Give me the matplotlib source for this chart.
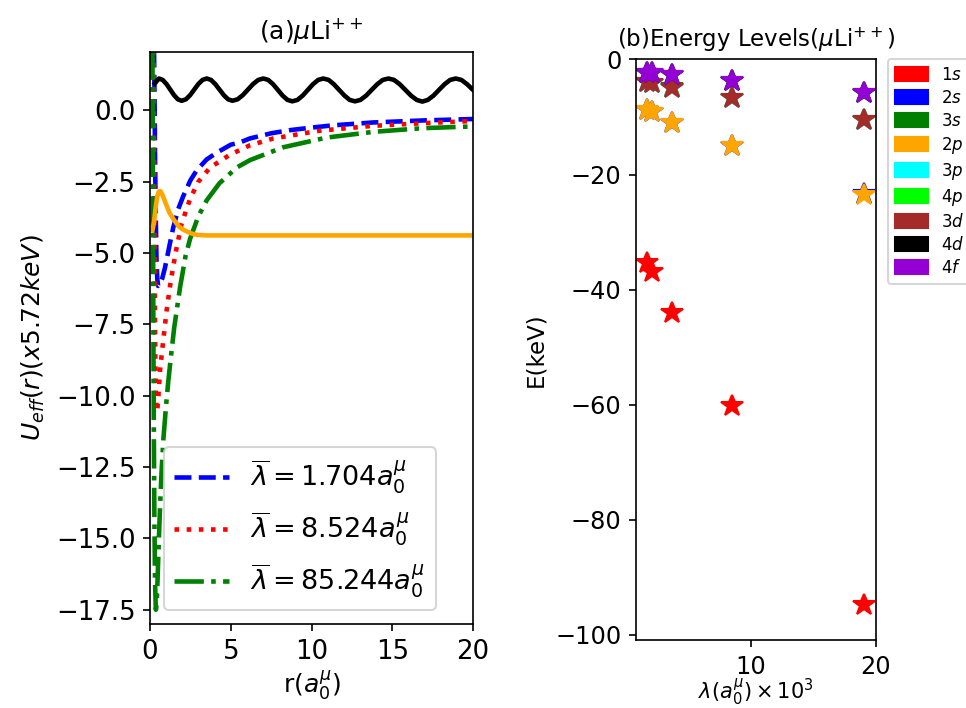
import matplotlib
matplotlib.use("Agg")
import matplotlib.pyplot as plt
from matplotlib.patches import Patch

# ---------------- (a) effective potentials ----------------
r_blue = [0.25, 0.28, 0.31, 0.35, 0.40, 0.45, 0.50, 0.60, 0.75, 0.93, 1.2, 1.44, 1.75,
          2.06, 2.5, 2.89, 3.5, 4.13, 5.0, 5.57, 6.19, 7.5, 8.67, 10.0, 11.35, 13.83,
          16.9, 20.0]
u_blue = [2.1, 0.5, -1.5, -3.5, -5.2, -5.9, -6.15, -6.1, -5.9, -5.5, -4.75, -4.1, -3.45,
          -3.0, -2.45, -2.1, -1.72, -1.48, -1.2, -1.12, -0.98, -0.8, -0.69, -0.6, -0.52,
          -0.42, -0.35, -0.3]

r_red = [0.22, 0.25, 0.28, 0.31, 0.35, 0.40, 0.45, 0.52, 0.62, 0.83, 1.03, 1.24, 1.44,
         1.65, 1.96, 2.48, 2.99, 3.72, 4.95, 6.19, 7.64, 10.5, 13.8, 17.1, 20.0]
u_red = [2.1, -1.5, -5.0, -7.8, -9.8, -10.55, -10.5, -10.0, -9.1, -8.0, -7.0, -6.15,
         -5.45, -4.8, -3.96, -3.1, -2.5, -2.0, -1.55, -1.22, -0.98, -0.71, -0.54, -0.44,
         -0.37]

r_green = [0.15, 0.17, 0.19, 0.21, 0.24, 0.27, 0.31, 0.36, 0.41, 0.47, 0.55, 0.62, 0.72,
           0.83, 1.0, 1.13, 1.3, 1.5, 1.86, 2.2, 2.48, 3.0, 3.51, 4.3, 5.37, 6.19, 8.25,
           10.94, 13.83, 16.9, 20.0]
u_green = [2.1, -1.0, -4.5, -8.0, -11.5, -14.3, -16.5, -17.5, -17.3, -16.4, -15.0, -13.9,
           -12.6, -11.5, -10.3, -9.5, -8.6, -7.6, -6.2, -5.1, -4.5, -3.7, -3.15, -2.55,
           -2.0, -1.74, -1.29, -0.95, -0.75, -0.62, -0.56]

r_orange = [0.15, 0.25, 0.35, 0.45, 0.55, 0.65, 0.8, 1.0, 1.2, 1.44, 1.75, 2.06, 2.5,
            2.89, 3.5, 20.0]
u_orange = [-4.2, -3.9, -3.4, -3.0, -2.84, -2.83, -3.0, -3.3, -3.58, -3.8, -4.05, -4.18,
            -4.3, -4.36, -4.38, -4.38]

r_black = [0.30, 0.55, 0.785, 1.02, 1.255, 1.49, 1.725, 1.96, 2.22, 2.48, 2.735, 2.99,
           3.25, 3.51, 3.775, 4.04, 4.305, 4.57, 4.835, 5.10, 5.42, 5.74, 6.06, 6.38,
           6.70, 7.02, 7.32, 7.62, 7.915, 8.21, 8.51, 8.81, 9.13, 9.45, 9.77, 10.09,
           10.41, 10.73, 11.06, 11.38, 11.71, 12.04, 12.36, 12.69, 13.03, 13.38, 13.72,
           14.07, 14.41, 14.76, 15.11, 15.46, 15.81, 16.16, 16.51, 16.86, 17.20, 17.55,
           17.89, 18.24, 18.58, 18.93, 19.28, 19.63, 20.0]
u_black = [0.95, 1.12,
           1.07, 0.925, 0.73, 0.535, 0.39, 0.34,
           0.39, 0.535, 0.73, 0.925, 1.07, 1.12,
           1.07, 0.925, 0.73, 0.535, 0.39, 0.34,
           0.39, 0.535, 0.73, 0.925, 1.07, 1.12,
           1.07, 0.92, 0.72, 0.52, 0.37, 0.32,
           0.37, 0.52, 0.72, 0.92, 1.07, 1.12,
           1.07, 0.92, 0.72, 0.52, 0.37, 0.32,
           0.37, 0.52, 0.72, 0.92, 1.07, 1.12,
           1.07, 0.92, 0.72, 0.52, 0.37, 0.31,
           0.37, 0.52, 0.72, 0.92, 1.07, 1.12,
           1.07, 0.92, 0.72]

lambda_labels = [r"$\overline{\lambda}=1.704a_0^\mu$",
                 r"$\overline{\lambda}=8.524a_0^\mu$",
                 r"$\overline{\lambda}=85.244a_0^\mu$"]

# ---------------- (b) energy levels ----------------
lam_x = [1.70, 2.13, 3.75, 8.52, 19.08]
level_names = ["1s", "2s", "3s", "2p", "3p", "4p", "3d", "4d", "4f"]
level_colors = ["red", "blue", "green", "orange", "cyan", "lime", "brown", "black",
                "darkviolet"]
E_1s = [-35.3, -37.0, -44.0, -60.3, -94.8]
E_2s = [-8.78, -9.18, -10.98, -14.97, -23.45]
E_3s = [-3.97, -4.07, -4.87, -6.66, -10.45]
E_2p = [-8.8, -9.2, -11.0, -15.0, -23.5]
E_3p = [-3.98, -4.08, -4.88, -6.68, -10.48]
E_4p = [-2.28, -2.28, -2.68, -3.68, -5.77]
E_3d = [-4.0, -4.1, -4.9, -6.7, -10.5]
E_4d = [-2.29, -2.29, -2.69, -3.69, -5.78]
E_4f = [-2.3, -2.3, -2.7, -3.7, -5.8]
levels = [E_1s, E_2s, E_3s, E_2p, E_3p, E_4p, E_3d, E_4d, E_4f]

fig = plt.figure(figsize=(6.44, 4.72), dpi=150)

ax1 = fig.add_axes([0.1553, 0.1186, 0.3344, 0.808])
lw = 2.2
ax1.plot(r_blue, u_blue, color="blue", ls="--", lw=lw, label=lambda_labels[0])
ax1.plot(r_red, u_red, color="red", ls=":", lw=lw, label=lambda_labels[1])
ax1.plot(r_green, u_green, color="green", ls="-.", lw=lw, label=lambda_labels[2])
ax1.plot(r_black, u_black, color="black", ls="-", lw=lw)
ax1.plot(r_orange, u_orange, color="orange", ls="-", lw=lw)
ax1.set_xlim(0, 20)
ax1.set_ylim(-18, 2.05)
ax1.set_xticks([0, 5, 10, 15, 20])
ax1.set_yticks([-17.5, -15.0, -12.5, -10.0, -7.5, -5.0, -2.5, 0.0])
ax1.tick_params(labelsize=12.5)
ax1.set_title(r"(a)$\mu$Li$^{++}$", fontsize=12)
ax1.set_xlabel(r"r($a_0^\mu$)", fontsize=12, labelpad=2)
ax1.set_ylabel(r"$U_{eff}(r)(x5.72keV)$", fontsize=12)
ax1.legend(loc="lower left", fontsize=13)

ax2 = fig.add_axes([0.6584, 0.096, 0.2484, 0.820])
for E, c in zip(levels, level_colors):
    ax2.plot(lam_x, E, ls="none", marker="*", ms=11, color=c)
ax2.set_xlim(0.85, 20.0)
ax2.set_ylim(-100.9, 0)
ax2.set_xticks([10, 20])
ax2.set_yticks([0, -20, -40, -60, -80, -100])
ax2.tick_params(labelsize=11.5)
ax2.set_title(r"(b)Energy Levels($\mu$Li$^{++}$)", fontsize=11)
ax2.set_xlabel(r"$\lambda(a_0^\mu)\times10^3$", fontsize=10, labelpad=-1)
ax2.set_ylabel("E(keV)", fontsize=11)
handles = [Patch(color=c, label="$" + n + "$") for n, c in zip(level_names, level_colors)]
ax2.legend(handles=handles, loc="upper left", bbox_to_anchor=(1.05, 1),
           borderaxespad=0, fontsize=8, labelspacing=0.3, handleheight=0.9)

fig.savefig("out.png", dpi=150)
